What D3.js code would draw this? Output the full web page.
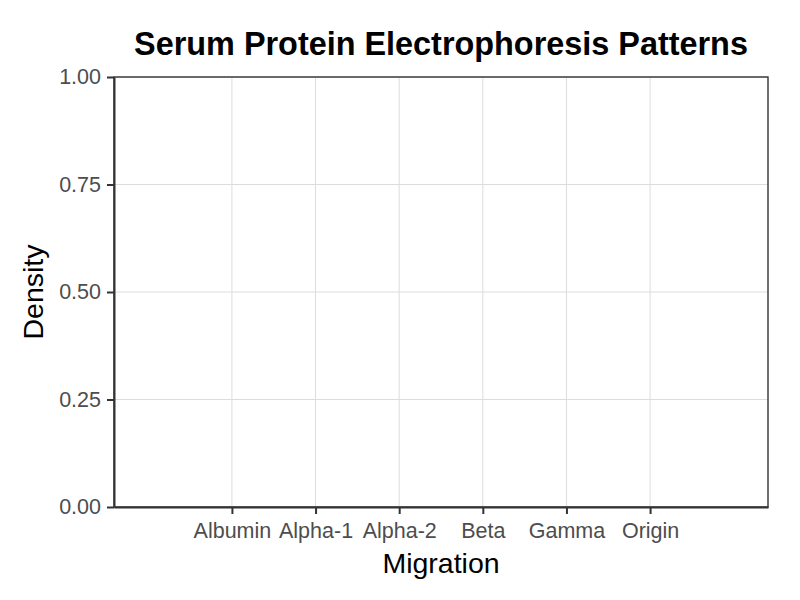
<!DOCTYPE html>
<html>
<head>
<meta charset="utf-8">
<script src="https://cdn.jsdelivr.net/npm/d3@7"></script>
<style>
  body { margin: 0; background: #fff; }
  text { font-family: "Liberation Sans", Arial, sans-serif; }
</style>
</head>
<body>
<script>
// migration bands, left to right
var categories = ["Albumin", "Alpha-1", "Alpha-2", "Beta", "Gamma", "Origin"];
var yBreaks = [0, 0.25, 0.5, 0.75, 1];
var yLimits = [0, 1];

var width = 800, height = 600;
var margin = {top: 77, right: 32, bottom: 93, left: 114};
var w = width - margin.left - margin.right;
var h = height - margin.top - margin.bottom;

var svg = d3.select("body").append("svg")
  .attr("width", width)
  .attr("height", height);

var x = d3.scalePoint()
  .domain(categories)
  .range([0, w])
  .padding(1.41);

var y = d3.scaleLinear()
  .domain(yLimits)
  .range([h, 0]);

var g = svg.append("g")
  .attr("transform", "translate(" + margin.left + "," + margin.top + ")");

// grid
g.append("g").selectAll("line").data(yBreaks).enter().append("line")
  .attr("x1", 0).attr("x2", w)
  .attr("y1", function(d){ return y(d); })
  .attr("y2", function(d){ return y(d); })
  .attr("stroke", "#dcdcdc").attr("stroke-width", 1);
g.append("g").selectAll("line").data(categories).enter().append("line")
  .attr("y1", 0).attr("y2", h)
  .attr("x1", function(d){ return x(d); })
  .attr("x2", function(d){ return x(d); })
  .attr("stroke", "#dcdcdc").attr("stroke-width", 1);

// panel border
g.append("rect")
  .attr("width", w).attr("height", h)
  .attr("fill", "none")
  .attr("stroke", "#333").attr("stroke-width", 1.4);

function styleAxis(sel) {
  sel.select(".domain").attr("stroke", "#333").attr("stroke-width", 2);
  sel.selectAll(".tick line").attr("stroke", "#333").attr("stroke-width", 2);
  sel.selectAll(".tick text")
    .attr("fill", "#4d4d4d")
    .style("font-size", "21.5px");
}

var xAxis = d3.axisBottom(x).tickSize(7).tickPadding(9).tickSizeOuter(0);
g.append("g").attr("class", "x-axis")
  .attr("transform", "translate(0," + h + ")")
  .call(xAxis)
  .call(styleAxis);

var yAxis = d3.axisLeft(y).tickValues(yBreaks).tickFormat(d3.format(".2f"))
  .tickSize(7).tickPadding(6).tickSizeOuter(0);
g.append("g").attr("class", "y-axis")
  .call(yAxis)
  .call(styleAxis);

// titles
svg.append("text")
  .attr("x", margin.left + w / 2).attr("y", 55)
  .attr("text-anchor", "middle")
  .style("font-size", "32.4px").style("font-weight", "bold")
  .text("Serum Protein Electrophoresis Patterns");

svg.append("text")
  .attr("x", margin.left + w / 2).attr("y", 573)
  .attr("text-anchor", "middle")
  .style("font-size", "28.5px")
  .text("Migration");

svg.append("text")
  .attr("transform", "translate(43," + (margin.top + h / 2) + ") rotate(-90)")
  .attr("text-anchor", "middle")
  .style("font-size", "28.5px")
  .text("Density");
</script>
</body>
</html>
